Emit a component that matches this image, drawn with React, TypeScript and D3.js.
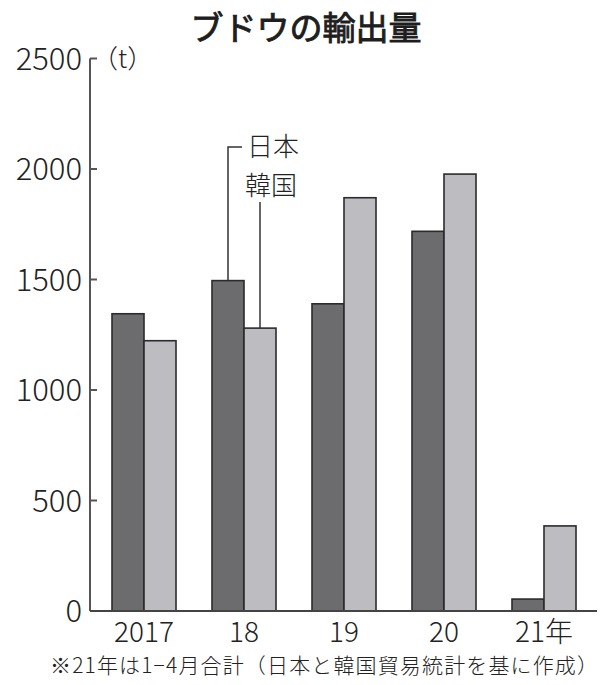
import { useEffect, useRef } from "react";
import * as d3 from "d3";

const years = ["2017", "18", "19", "20", "21年"];
const countries = ["日本", "韓国"];
const japan = [1345, 1495, 1390, 1718, 54];
const korea = [1223, 1280, 1870, 1977, 385];
const yTicks = [0, 500, 1000, 1500, 2000, 2500];

const title = "ブドウの輸出量";
const unit = "（t）";
const note = "※21年は1−4月合計（日本と韓国貿易統計を基に作成）";

const font = "'Noto Sans CJK JP', 'Noto Sans', sans-serif";

export default function App() {
  const ref = useRef<SVGSVGElement | null>(null);

  useEffect(() => {
    const svg = d3.select(ref.current);
    svg.selectAll("*").remove();

    const width = 601;
    const height = 685;
    svg.attr("viewBox", `0 0 ${width} ${height}`);

    const x = d3.scaleBand<string>().domain(years).range([92, 596]).paddingInner(0.36).paddingOuter(0.2);
    const sub = d3.scaleBand<string>().domain(countries).range([0, x.bandwidth()]);
    const y = d3.scaleLinear().domain([0, 2500]).range([611, 58.5]);

    const axisX = 90;

    // title
    svg
      .append("text")
      .attr("x", 306)
      .attr("y", 40)
      .attr("text-anchor", "middle")
      .attr("font-size", 33)
      .attr("font-weight", 400)
      .attr("fill", "#1e1e1e")
      .attr("stroke", "#1e1e1e")
      .attr("stroke-width", 0.9)
      .text(title);

    // bars
    const series = [japan, korea];
    const fills = ["#6c6c6e", "#bdbdc1"];
    years.forEach((yr, i) => {
      countries.forEach((c, j) => {
        const v = series[j][i];
        svg
          .append("rect")
          .attr("x", (x(yr) ?? 0) + (sub(c) ?? 0))
          .attr("y", y(v))
          .attr("width", sub.bandwidth())
          .attr("height", y(0) - y(v))
          .attr("fill", fills[j])
          .attr("stroke", "#2b2b2b")
          .attr("stroke-width", 1.6);
      });
    });

    // axes
    svg
      .append("line")
      .attr("x1", axisX)
      .attr("x2", axisX)
      .attr("y1", y(2500))
      .attr("y2", y(0))
      .attr("stroke", "#555")
      .attr("stroke-width", 2);
    svg
      .append("line")
      .attr("x1", axisX)
      .attr("x2", 597)
      .attr("y1", y(0))
      .attr("y2", y(0))
      .attr("stroke", "#444")
      .attr("stroke-width", 2);

    yTicks.forEach((t) => {
      if (t > 0) {
        svg
          .append("line")
          .attr("x1", axisX)
          .attr("x2", axisX + 7)
          .attr("y1", y(t))
          .attr("y2", y(t))
          .attr("stroke", "#555")
          .attr("stroke-width", 2);
      }
      svg
        .append("text")
        .attr("x", 82)
        .attr("y", y(t) + 11)
        .attr("text-anchor", "end")
        .attr("font-size", 31)
        .attr("font-weight", 300)
        .attr("fill", "#222")
        .text(t);
    });

    svg
      .append("text")
      .attr("x", 92)
      .attr("y", y(2500) + 9)
      .attr("font-size", 26)
      .attr("font-weight", 300)
      .attr("fill", "#222")
      .text(unit);

    // x labels
    years.forEach((yr) => {
      svg
        .append("text")
        .attr("x", (x(yr) ?? 0) + x.bandwidth() / 2)
        .attr("y", 642)
        .attr("text-anchor", "middle")
        .attr("font-size", 28)
        .attr("font-weight", 300)
        .attr("fill", "#222")
        .text(yr);
    });

    // legend leaders on 2018 bars
    const jx = (x("18") ?? 0) + (sub("日本") ?? 0) + sub.bandwidth() / 2;
    const kx = (x("18") ?? 0) + (sub("韓国") ?? 0) + sub.bandwidth() / 2;
    svg
      .append("path")
      .attr("d", `M${jx},${y(japan[1])}V147H${jx + 14}`)
      .attr("fill", "none")
      .attr("stroke", "#333")
      .attr("stroke-width", 1.5);
    svg
      .append("line")
      .attr("x1", kx)
      .attr("x2", kx)
      .attr("y1", 202)
      .attr("y2", y(korea[1]))
      .attr("stroke", "#333")
      .attr("stroke-width", 1.5);
    svg
      .append("text")
      .attr("x", jx + 19)
      .attr("y", 156)
      .attr("font-size", 26)
      .attr("font-weight", 300)
      .attr("fill", "#222")
      .text(countries[0]);
    svg
      .append("text")
      .attr("x", jx + 17)
      .attr("y", 195)
      .attr("font-size", 26)
      .attr("font-weight", 300)
      .attr("fill", "#222")
      .text(countries[1]);

    // footnote
    svg
      .append("text")
      .attr("x", 50)
      .attr("y", 673)
      .attr("font-size", 21)
      .attr("font-weight", 300)
      .attr("textLength", 548)
      .attr("lengthAdjust", "spacing")
      .attr("fill", "#222")
      .text(note);
  }, []);

  return (
    <svg
      ref={ref}
      width={601}
      height={685}
      style={{ position: "absolute", left: 0, top: 0, background: "#fff", fontFamily: font }}
    />
  );
}
